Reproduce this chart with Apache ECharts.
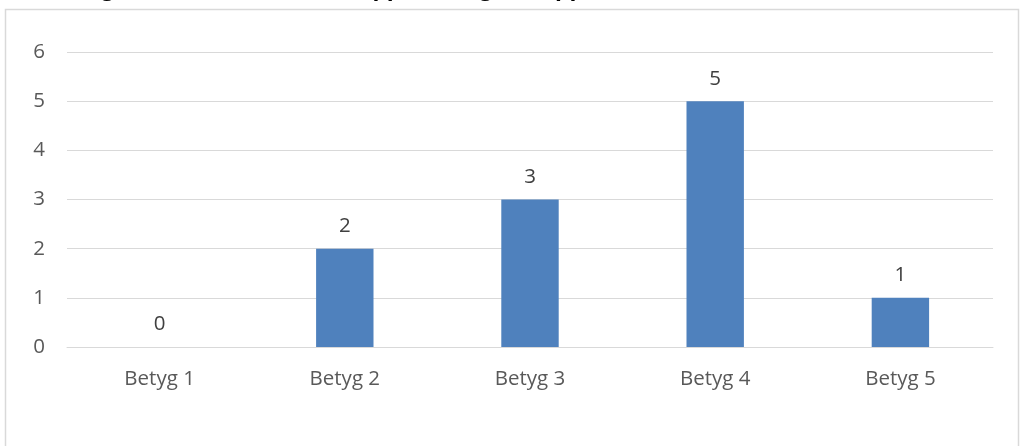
<!DOCTYPE html>
<html>
<head>
<meta charset="utf-8">
<script src="https://cdn.jsdelivr.net/npm/echarts@6/dist/echarts.min.js"></script>
<style>
  html, body { margin: 0; padding: 0; background: #fff; }
  #chart { width: 1025px; height: 446px; }
</style>
</head>
<body>
<div id="chart"></div>
<script>
const titleText = 'Fråga 5: Hur stämmer din uppfattning om uppsatsen';
const categories = ['Betyg 1', 'Betyg 2', 'Betyg 3', 'Betyg 4', 'Betyg 5'];
const counts = [0, 2, 3, 5, 1];
const yTicks = [0, 1, 2, 3, 4, 5, 6];

const chart = echarts.init(document.getElementById('chart'));
const fontFamily = '"Open Sans", "Noto Sans", sans-serif';

chart.setOption({
  animation: false,
  graphic: [{
    // chart frame
    type: 'rect',
    shape: { x: 5.5, y: 9.5, width: 1013, height: 460 },
    style: { fill: 'none', stroke: '#d9d9d9', lineWidth: 1.5 },
    silent: true
  }, {
    // heading sits above the frame, mostly outside the canvas
    type: 'text',
    x: 65,
    y: -23,
    style: {
      text: titleText,
      fill: '#000',
      font: 'bold 22.6px "Open Sans", "Noto Sans", sans-serif',
      textVerticalAlign: 'top'
    },
    silent: true
  }],
  grid: { left: 67, right: 32, top: 52, bottom: 99 },
  xAxis: {
    type: 'category',
    data: categories,
    axisLine: { show: true, lineStyle: { color: '#d9d9d9', width: 1 } },
    axisTick: { show: false },
    axisLabel: { margin: 22, fontFamily, fontSize: 20.5, color: '#595959' }
  },
  yAxis: {
    type: 'value',
    min: yTicks[0],
    max: yTicks[yTicks.length - 1],
    interval: 1,
    axisLine: { show: false },
    axisTick: { show: false },
    splitLine: { lineStyle: { color: '#d9d9d9', width: 1 } },
    axisLabel: { margin: 22, fontFamily, fontSize: 20.5, color: '#595959' }
  },
  series: [{
    type: 'bar',
    data: counts,
    barWidth: '31%',
    itemStyle: { color: '#4f81bd' },
    label: {
      show: true,
      position: 'top',
      distance: 12,
      fontFamily,
      fontSize: 20.5,
      color: '#404040'
    }
  }]
});
</script>
</body>
</html>
